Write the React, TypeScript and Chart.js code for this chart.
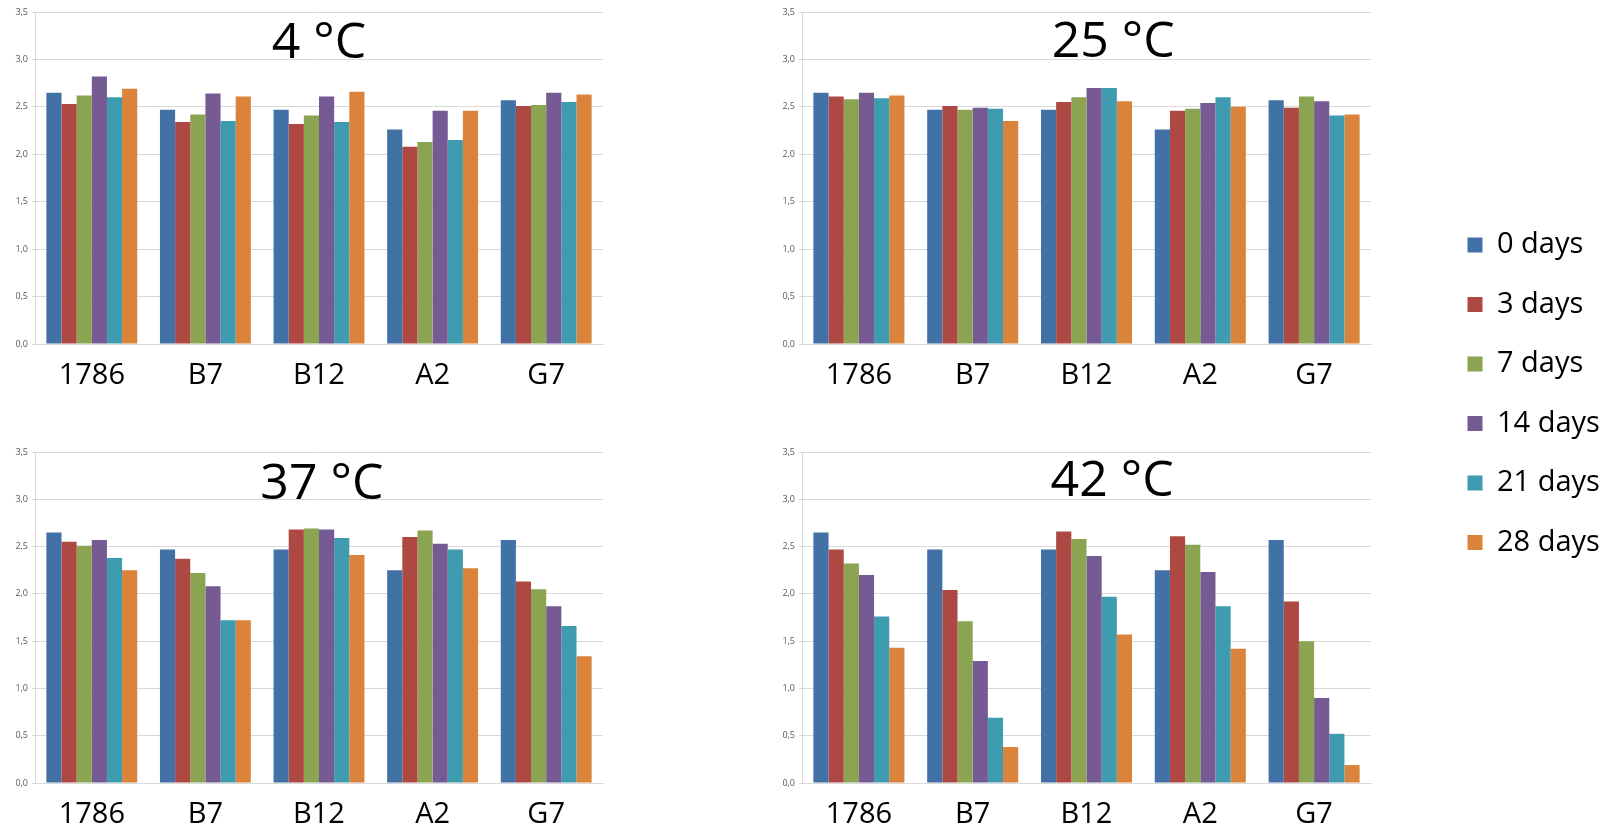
import React, { useEffect, useRef } from 'react';
import { Chart, registerables } from 'chart.js';

Chart.register(...registerables);

const FONT = "'Open Sans', 'Noto Sans', sans-serif";

const categories = ['1786', 'B7', 'B12', 'A2', 'G7'];
const seriesLabels = ['0 days', '3 days', '7 days', '14 days', '21 days', '28 days'];
const seriesColors = ['#4271A6', '#AE4843', '#8AA452', '#755A93', '#3F9BB0', '#DB833A'];
const yTicks = [0, 0.5, 1, 1.5, 2, 2.5, 3, 3.5];
const panelTitles = ['4 °C', '25 °C', '37 °C', '42 °C'];

// rows = series (0, 3, 7, 14, 21, 28 days); columns = categories
const values4C = [
  [2.65, 2.47, 2.47, 2.26, 2.57],
  [2.53, 2.34, 2.32, 2.08, 2.51],
  [2.62, 2.42, 2.41, 2.13, 2.52],
  [2.82, 2.64, 2.61, 2.46, 2.65],
  [2.60, 2.35, 2.34, 2.15, 2.55],
  [2.69, 2.61, 2.66, 2.46, 2.63],
];
const values25C = [
  [2.65, 2.47, 2.47, 2.26, 2.57],
  [2.61, 2.51, 2.55, 2.46, 2.49],
  [2.58, 2.47, 2.60, 2.48, 2.61],
  [2.65, 2.49, 2.70, 2.54, 2.56],
  [2.59, 2.48, 2.70, 2.60, 2.41],
  [2.62, 2.35, 2.56, 2.50, 2.42],
];
const values37C = [
  [2.65, 2.47, 2.47, 2.25, 2.57],
  [2.55, 2.37, 2.68, 2.60, 2.13],
  [2.51, 2.22, 2.69, 2.67, 2.05],
  [2.57, 2.08, 2.68, 2.53, 1.87],
  [2.38, 1.72, 2.59, 2.47, 1.66],
  [2.25, 1.72, 2.41, 2.27, 1.34],
];
const values42C = [
  [2.65, 2.47, 2.47, 2.25, 2.57],
  [2.47, 2.04, 2.66, 2.61, 1.92],
  [2.32, 1.71, 2.58, 2.52, 1.50],
  [2.20, 1.29, 2.40, 2.23, 0.90],
  [1.76, 0.69, 1.97, 1.87, 0.52],
  [1.43, 0.38, 1.57, 1.42, 0.19],
];

const panelValues = [values4C, values25C, values37C, values42C];

const panelLayout = [
  { left: 0, top: 0, width: 615, height: 400, xAxisHeight: 56, titleX: 0.5, titleDy: 46 },
  { left: 767, top: 0, width: 616, height: 400, xAxisHeight: 56, titleX: 0.547, titleDy: 45 },
  { left: 0, top: 440, width: 615, height: 391, xAxisHeight: 48, titleX: 0.505, titleDy: 47 },
  { left: 767, top: 440, width: 616, height: 391, xAxisHeight: 48, titleX: 0.545, titleDy: 44 },
];

const panelTitlePlugin = {
  id: 'panelTitle',
  afterDraw(chart: any, _args: any, opts: any) {
    const { ctx, chartArea } = chart;
    ctx.save();
    ctx.font = `${opts.size}px ${FONT}`;
    ctx.fillStyle = '#000000';
    ctx.textAlign = 'center';
    ctx.textBaseline = 'alphabetic';
    ctx.fillText(opts.text, chartArea.left + chartArea.width * opts.xFrac, chartArea.top + opts.dy);
    ctx.restore();
  },
};

function Panel({ index }: { index: number }) {
  const ref = useRef<HTMLCanvasElement>(null);
  const lay = panelLayout[index];
  useEffect(() => {
    if (!ref.current) return;
    const vals = panelValues[index];
    const chart = new Chart(ref.current, {
      type: 'bar',
      data: {
        labels: categories,
        datasets: seriesLabels.map((label, i) => ({
          label,
          data: vals[i],
          backgroundColor: seriesColors[i],
          borderWidth: 0,
          categoryPercentage: 0.8,
          barPercentage: 1.0,
        })),
      },
      plugins: [panelTitlePlugin],
      options: {
        responsive: false,
        animation: false,
        layout: { padding: { top: 12, right: 12, left: 0, bottom: 0 } },
        plugins: {
          legend: { display: false },
          tooltip: { enabled: false },
          title: { display: false },
          panelTitle: { text: panelTitles[index], size: 50, xFrac: lay.titleX, dy: lay.titleDy },
        } as any,
        scales: {
          x: {
            grid: { display: false, drawTicks: false, tickLength: 0 },
            border: { display: true, color: '#d9d9d9', width: 1 },
            ticks: { font: { size: 29, family: FONT }, color: '#000000', padding: 14, maxRotation: 0 },
            afterFit: (s: any) => { s.height = lay.xAxisHeight; },
          },
          y: {
            min: 0,
            max: 3.5,
            grid: { color: '#d9d9d9', tickLength: 3, drawTicks: true },
            border: { display: true, color: '#d9d9d9', width: 1 },
            ticks: {
              font: { size: 9, family: FONT },
              color: '#595959',
              padding: 4,
              callback: (v: any) => Number(v).toFixed(1).replace('.', ','),
            },
            afterBuildTicks: (s: any) => { s.ticks = yTicks.map((v) => ({ value: v })); },
            afterFit: (s: any) => { s.width = 35; },
          },
        },
      },
    } as any);
    return () => chart.destroy();
  }, [index]);
  return (
    <canvas
      ref={ref}
      width={lay.width}
      height={lay.height}
      style={{ position: 'absolute', left: lay.left, top: lay.top, width: lay.width, height: lay.height }}
    />
  );
}

function LegendPanel() {
  const ref = useRef<HTMLCanvasElement>(null);
  useEffect(() => {
    if (!ref.current) return;
    const chart = new Chart(ref.current, {
      type: 'bar',
      data: {
        labels: [],
        datasets: seriesLabels.map((label, i) => ({
          label,
          data: [],
          backgroundColor: seriesColors[i],
          borderWidth: 0,
        })),
      },
      options: {
        responsive: false,
        animation: false,
        layout: { padding: 0 },
        plugins: {
          tooltip: { enabled: false },
          legend: {
            position: 'left',
            align: 'start',
            maxWidth: 300,
            labels: {
              boxWidth: 15,
              boxHeight: 15,
              padding: 30.5,
              color: '#000000',
              font: { size: 29, family: FONT },
            },
          },
        },
        scales: { x: { display: false }, y: { display: false } },
      },
    } as any);
    return () => chart.destroy();
  }, []);
  return (
    <canvas
      ref={ref}
      width={400}
      height={460}
      style={{ position: 'absolute', left: 1437, top: 200, width: 400, height: 460 }}
    />
  );
}

export default function App() {
  return (
    <div
      style={{
        position: 'absolute',
        left: 0,
        top: 0,
        width: 1610,
        height: 831,
        overflow: 'hidden',
        background: '#ffffff',
      }}
    >
      {[0, 1, 2, 3].map((i) => (
        <Panel key={i} index={i} />
      ))}
      <LegendPanel />
    </div>
  );
}
